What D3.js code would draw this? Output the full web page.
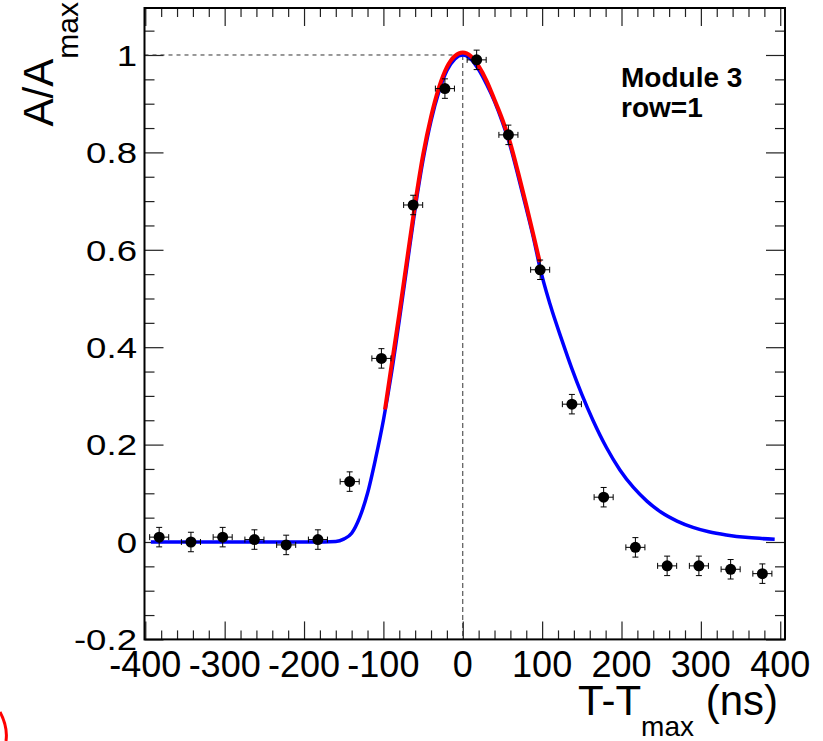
<!DOCTYPE html>
<html lang="en">
<head>
<meta charset="utf-8">
<title>Module 3 row=1 pulse shape</title>
<script src="https://d3js.org/d3.v7.min.js"></script>
<style>
  body { margin: 0; background: #fff; }
  svg { font-family: "Liberation Sans", Arial, Helvetica, sans-serif; }
</style>
</head>
<body>
<div id="chart"></div>
<script>
// measured points (T - Tmax in ns, A/Amax)
var ptT = [-382.5, -342.5, -302.5, -262.5, -222.5, -182.5, -142.5, -102.5, -62.5, -22.5,
           17.5, 57.5, 97.5, 137.5, 177.5, 217.5, 257.5, 297.5, 337.5, 377.5];
var ptA = [0.010, 0.000, 0.010, 0.005, -0.006, 0.005, 0.124, 0.377, 0.692, 0.931,
           0.990, 0.836, 0.559, 0.283, 0.092, -0.011, -0.049, -0.049, -0.056, -0.065];
var ptTErr = [12, 12, 12, 12, 12, 12, 12, 12, 12, 12, 12, 12, 12, 12, 12, 12, 12, 12, 12, 12];
var ptAErr = [0.02, 0.02, 0.02, 0.02, 0.02, 0.02, 0.02, 0.02, 0.02, 0.02,
              0.02, 0.02, 0.02, 0.02, 0.02, 0.02, 0.02, 0.02, 0.02, 0.02];

// full shape function (blue)
var blueT = [-393, -300, -200, -175, -160, -150, -140, -130, -120, -110, -100, -90, -80, -70,
             -60, -50, -40, -30, -20, -10, 0, 10, 20, 30, 40, 50, 60, 70, 80, 90, 97, 110,
             125, 137, 150, 164, 181, 198, 215, 232, 250, 270, 290, 310, 332, 360, 393];
var blueA = [0, 0, 0, 0, 0.001, 0.006, 0.018, 0.05, 0.10, 0.17, 0.25, 0.345, 0.455, 0.57,
             0.685, 0.785, 0.865, 0.925, 0.968, 0.992, 1.0, 0.992, 0.97, 0.94, 0.905, 0.862,
             0.812, 0.75, 0.685, 0.618, 0.565, 0.488, 0.414, 0.358, 0.303, 0.25, 0.194,
             0.148, 0.112, 0.084, 0.061, 0.043, 0.030, 0.021, 0.0145, 0.009, 0.0055];

// fit around the peak (red)
var redT = [-98, -90, -80, -70, -60, -50, -40, -30, -20, -10, 0, 10, 20, 30, 40, 50, 60, 70, 80, 90, 97];
var redA = [0.272, 0.36, 0.468, 0.582, 0.695, 0.795, 0.873, 0.933, 0.975, 0.998, 1.005,
            0.998, 0.977, 0.947, 0.908, 0.867, 0.818, 0.757, 0.692, 0.624, 0.575];

var xTicks = [-400, -300, -200, -100, 0, 100, 200, 300, 400];
var xTickLabels = ["-400", "-300", "-200", "-100", "0", "100", "200", "300", "400"];
var yTicks = [-0.2, 0, 0.2, 0.4, 0.6, 0.8, 1];
var yTickLabels = ["-0.2", "0", "0.2", "0.4", "0.6", "0.8", "1"];

function drawChart() {
  var w = 823, h = 741;
  var fL = 144.5, fR = 785, fT = 8, fB = 639.4;

  var svg = d3.select("#chart").append("svg")
      .attr("width", w).attr("height", h);

  var x = d3.scaleLinear().domain([-401, 406]).range([fL, fR]);
  var y = d3.scaleLinear().domain([-0.2, 1.0965]).range([fB, fT]);

  var xMinor = d3.range(-400, 401, 20).filter(function(d) { return d % 100 !== 0; });
  var yMinor = d3.range(-0.2, 1.09, 0.05).filter(function(d) {
    return Math.abs(Math.round(d * 5) - d * 5) > 1e-6;
  });

  function styleTicks(g) {
    g.select(".domain").remove();
    g.selectAll(".tick line").attr("stroke", "#222").attr("stroke-width", 1.2);
  }

  // ticks on all four sides
  svg.append("g").attr("transform", "translate(0," + fB + ")")
    .call(d3.axisBottom(x).tickValues(xTicks).tickSize(-18).tickFormat(""))
    .call(styleTicks);
  svg.append("g").attr("transform", "translate(0," + fB + ")")
    .call(d3.axisBottom(x).tickValues(xMinor).tickSize(-9).tickFormat(""))
    .call(styleTicks);
  svg.append("g").attr("transform", "translate(0," + fT + ")")
    .call(d3.axisTop(x).tickValues(xTicks).tickSize(-18).tickFormat(""))
    .call(styleTicks);
  svg.append("g").attr("transform", "translate(0," + fT + ")")
    .call(d3.axisTop(x).tickValues(xMinor).tickSize(-9).tickFormat(""))
    .call(styleTicks);
  svg.append("g").attr("transform", "translate(" + fL + ",0)")
    .call(d3.axisLeft(y).tickValues(yTicks).tickSize(-19).tickFormat(""))
    .call(styleTicks);
  svg.append("g").attr("transform", "translate(" + fL + ",0)")
    .call(d3.axisLeft(y).tickValues(yMinor).tickSize(-10).tickFormat(""))
    .call(styleTicks);
  svg.append("g").attr("transform", "translate(" + fR + ",0)")
    .call(d3.axisRight(y).tickValues(yTicks).tickSize(-19).tickFormat(""))
    .call(styleTicks);
  svg.append("g").attr("transform", "translate(" + fR + ",0)")
    .call(d3.axisRight(y).tickValues(yMinor).tickSize(-10).tickFormat(""))
    .call(styleTicks);

  // tick labels
  svg.selectAll(".xlab").data(xTicks).enter().append("text")
    .attr("class", "xlab")
    .attr("x", function(d) { return x(d); })
    .attr("y", 677)
    .attr("text-anchor", "middle")
    .style("font-size", "36px")
    .text(function(d, i) { return xTickLabels[i]; });

  svg.selectAll(".ylab").data(yTicks).enter().append("text")
    .attr("class", "ylab")
    .attr("transform", function(d) { return "translate(137," + y(d) + ") scale(1.22,1)"; })
    .attr("dy", "0.36em")
    .attr("text-anchor", "end")
    .style("font-size", "30px")
    .text(function(d, i) { return yTickLabels[i]; });

  // dashed guide lines at the peak
  svg.append("line")
    .attr("x1", fL).attr("x2", x(0)).attr("y1", y(1)).attr("y2", y(1))
    .attr("stroke", "#333").attr("stroke-width", 1).attr("stroke-dasharray", "4,4");
  svg.append("line")
    .attr("x1", x(0)).attr("x2", x(0)).attr("y1", y(1)).attr("y2", fB)
    .attr("stroke", "#333").attr("stroke-width", 1).attr("stroke-dasharray", "5,3");

  // curves
  var line = d3.line()
    .x(function(d) { return x(d[0]); })
    .y(function(d) { return y(d[1]); })
    .curve(d3.curveMonotoneX);

  svg.append("path")
    .datum(d3.zip(blueT, blueA))
    .attr("d", line)
    .attr("fill", "none").attr("stroke", "#0000ff").attr("stroke-width", 3.5);

  svg.append("path")
    .datum(d3.zip(redT, redA))
    .attr("d", line)
    .attr("fill", "none").attr("stroke", "#ff0000").attr("stroke-width", 4);

  // points with error bars
  var pts = svg.append("g").selectAll("g").data(d3.range(ptT.length)).enter().append("g");
  pts.append("line")
    .attr("x1", function(i) { return x(ptT[i] - ptTErr[i]); })
    .attr("x2", function(i) { return x(ptT[i] + ptTErr[i]); })
    .attr("y1", function(i) { return y(ptA[i]); })
    .attr("y2", function(i) { return y(ptA[i]); })
    .attr("stroke", "#000").attr("stroke-width", 1);
  pts.append("line")
    .attr("x1", function(i) { return x(ptT[i]); })
    .attr("x2", function(i) { return x(ptT[i]); })
    .attr("y1", function(i) { return y(ptA[i] - ptAErr[i]); })
    .attr("y2", function(i) { return y(ptA[i] + ptAErr[i]); })
    .attr("stroke", "#000").attr("stroke-width", 1);
  // end caps
  [-1, 1].forEach(function(s) {
    pts.append("line")
      .attr("x1", function(i) { return x(ptT[i] + s * ptTErr[i]); })
      .attr("x2", function(i) { return x(ptT[i] + s * ptTErr[i]); })
      .attr("y1", function(i) { return y(ptA[i]) - 3; })
      .attr("y2", function(i) { return y(ptA[i]) + 3; })
      .attr("stroke", "#000").attr("stroke-width", 1);
    pts.append("line")
      .attr("x1", function(i) { return x(ptT[i]) - 3; })
      .attr("x2", function(i) { return x(ptT[i]) + 3; })
      .attr("y1", function(i) { return y(ptA[i] + s * ptAErr[i]); })
      .attr("y2", function(i) { return y(ptA[i] + s * ptAErr[i]); })
      .attr("stroke", "#000").attr("stroke-width", 1);
  });
  pts.append("circle")
    .attr("cx", function(i) { return x(ptT[i]); })
    .attr("cy", function(i) { return y(ptA[i]); })
    .attr("r", 5.5)
    .attr("fill", "#000");

  // frame
  svg.append("rect")
    .attr("x", fL).attr("y", fT)
    .attr("width", fR - fL).attr("height", fB - fT)
    .attr("fill", "none").attr("stroke", "#000").attr("stroke-width", 2);

  // label box text
  svg.append("text").attr("x", 621).attr("y", 87)
    .style("font-size", "28px").style("font-weight", "bold").text("Module 3");
  svg.append("text").attr("x", 621).attr("y", 117)
    .style("font-size", "28px").style("font-weight", "bold").text("row=1");

  // axis titles
  var xt = svg.append("text").attr("x", 778).attr("y", 715)
    .attr("text-anchor", "end").style("font-size", "42px");
  xt.append("tspan").text("T-T");
  xt.append("tspan").attr("dy", 21).style("font-size", "28px").text("max");
  xt.append("tspan").attr("dy", -21).text(" (ns)");

  var yt = svg.append("text").attr("transform", "translate(53,2) rotate(-90)")
    .attr("text-anchor", "end").style("font-size", "42px");
  yt.append("tspan").text("A/A");
  yt.append("tspan").attr("dy", 25).style("font-size", "30px").text("max");

  // red fragment at the lower left corner
  svg.append("path")
    .attr("d", "M0,712 Q8,727 6,741")
    .attr("fill", "none").attr("stroke", "#ff0000").attr("stroke-width", 3);
}

drawChart();
</script>
</body>
</html>
